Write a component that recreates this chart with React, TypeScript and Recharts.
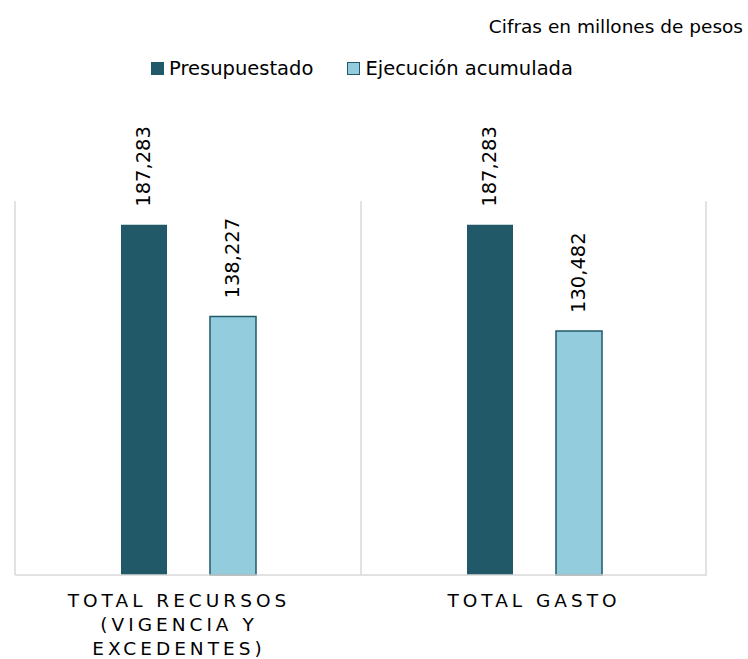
import React from 'react';
import { BarChart, Bar, XAxis, YAxis, CartesianGrid, LabelList } from 'recharts';

const categories = ['TOTAL RECURSOS\n(VIGENCIA Y\nEXCEDENTES)', 'TOTAL GASTO'];
const presupuestado = [187283, 187283];
const ejecucion = [138227, 130482];
const seriesNames = ['Presupuestado', 'Ejecución acumulada'];
const unitNote = 'Cifras en millones de pesos';

const data = categories.map((name, i) => ({
  name,
  presupuestado: presupuestado[i],
  ejecucion: ejecucion[i],
}));

const DARK = '#215968';
const LIGHT = '#93CDDD';
const GRID = '#d9d9d9';
const FONT = '"DejaVu Sans", Verdana, sans-serif';

const fmt = (v: number) => v.toLocaleString('en-US');

const ValueLabel = (props: any) => {
  const { x, y, width, value } = props;
  const cx = x + width / 2;
  const ty = y - 18;
  return (
    <text
      x={cx}
      y={ty}
      transform={`rotate(-90, ${cx}, ${ty})`}
      textAnchor="start"
      dominantBaseline="central"
      fontSize={19.5}
      fontFamily={FONT}
      fill="#000"
    >
      {fmt(value)}
    </text>
  );
};

const CategoryTick = (props: any) => {
  const { x, y, payload } = props;
  const lines = String(payload.value).split('\n');
  const shift = lines.length > 1 ? -9 : 0;
  return (
    <text
      x={x + shift}
      y={y}
      textAnchor="middle"
      fontSize={18.5}
      fontFamily={FONT}
      letterSpacing={4}
      fill="#000"
    >
      {lines.map((l, i) => (
        <tspan key={i} x={x + shift} dy={i === 0 ? 32 : 24}>
          {l}
        </tspan>
      ))}
    </text>
  );
};

const LegendBox = () => (
  <div
    style={{
      position: 'absolute',
      top: 57,
      left: 0,
      width: 748,
      display: 'flex',
      justifyContent: 'center',
      alignItems: 'center',
      gap: 34,
      fontFamily: FONT,
      fontSize: 19.5,
      color: '#000',
      boxSizing: 'border-box',
      paddingRight: 24,
    }}
  >
    {seriesNames.map((n, i) => (
      <div key={n} style={{ display: 'flex', alignItems: 'center', gap: 5 }}>
        <span
          style={{
            width: i === 0 ? 13 : 11,
            height: i === 0 ? 13 : 11,
            background: i === 0 ? DARK : LIGHT,
            border: i === 0 ? 'none' : `1.5px solid ${DARK}`,
            display: 'inline-block',
          }}
        />
        <span>{n}</span>
      </div>
    ))}
  </div>
);

export default function App() {
  return (
    <div style={{ position: 'relative', width: 748, height: 659, background: '#fff' }}>
      <style>{`body{margin:0}`}</style>
      <div
        style={{
          position: 'absolute',
          right: 5,
          top: 16,
          fontFamily: FONT,
          fontSize: 18.5,
          color: '#000',
          whiteSpace: 'nowrap',
        }}
      >
        {unitNote}
      </div>
      <LegendBox />
      <BarChart
        width={748}
        height={659}
        data={data}
        margin={{ top: 201, right: 41, left: 15, bottom: 54 }}
        barSize={46}
        barGap={43}
      >
        <CartesianGrid
          horizontal={false}
          stroke={GRID}
          strokeWidth={1.5}
          verticalCoordinatesGenerator={(p: any) => [
            p.offset.left,
            p.offset.left + p.offset.width / 2,
            p.offset.left + p.offset.width - 1,
          ]}
        />
        <XAxis
          dataKey="name"
          height={30}
          tickLine={false}
          axisLine={{ stroke: GRID, strokeWidth: 1.5 }}
          tickSize={0}
          tickMargin={0}
          tick={<CategoryTick />}
          interval={0}
        />
        <YAxis hide domain={[0, 200000]} />
        <Bar dataKey="presupuestado" name={seriesNames[0]} fill={DARK} isAnimationActive={false}>
          <LabelList dataKey="presupuestado" content={<ValueLabel />} />
        </Bar>
        <Bar
          dataKey="ejecucion"
          name={seriesNames[1]}
          fill={LIGHT}
          stroke={DARK}
          strokeWidth={1.5}
          isAnimationActive={false}
        >
          <LabelList dataKey="ejecucion" content={<ValueLabel />} />
        </Bar>
      </BarChart>
    </div>
  );
}
